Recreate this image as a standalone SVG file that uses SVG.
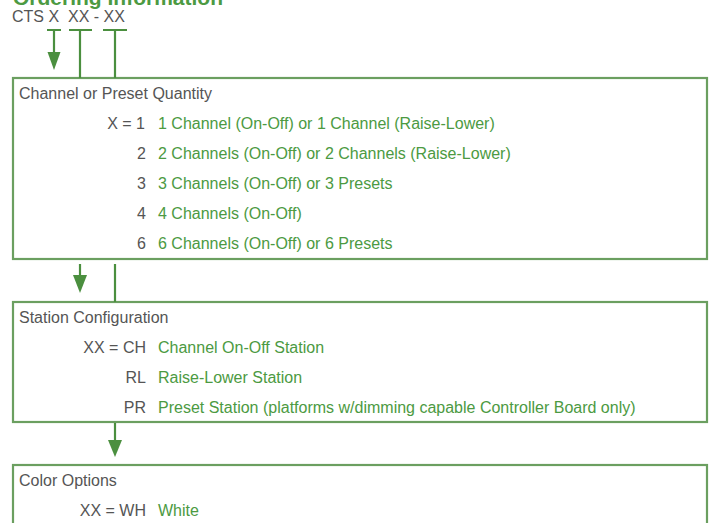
<svg xmlns="http://www.w3.org/2000/svg" width="716" height="523" viewBox="0 0 716 523">
<style>
.t{font-family:"Liberation Sans",Arial,sans-serif;font-size:16px;fill:#555}
.g{fill:#4c9a42}
.r{text-anchor:end}
.box{fill:#fff;stroke:#6b9f60;stroke-width:2.2}
.ln{stroke:#4b8f3f;stroke-width:2.2;fill:none}
.ah{fill:#4b8f3f}
</style>
<rect width="716" height="523" fill="#fff"/>
<text x="13" y="4.5" style="font-family:'Liberation Sans',Arial,sans-serif;font-size:21px;font-weight:bold;fill:#4c9a42">Ordering Information</text>
<text class="t" x="12" y="22">CTS X  <tspan x="68">XX - XX</tspan></text>

<g id="box1">
<rect class="box" x="13" y="78" width="694" height="181"/>
<text class="t" x="19" y="99">Channel or Preset Quantity</text>
<text class="t r" x="145" y="129">X = 1</text><text class="t g" x="158" y="129">1 Channel (On-Off) or 1 Channel (Raise-Lower)</text>
<text class="t r" x="146" y="159">2</text><text class="t g" x="158" y="159">2 Channels (On-Off) or 2 Channels (Raise-Lower)</text>
<text class="t r" x="146" y="189">3</text><text class="t g" x="158" y="189">3 Channels (On-Off) or 3 Presets</text>
<text class="t r" x="146" y="219">4</text><text class="t g" x="158" y="219">4 Channels (On-Off)</text>
<text class="t r" x="146" y="249">6</text><text class="t g" x="158" y="249">6 Channels (On-Off) or 6 Presets</text>
</g>

<g id="box2">
<rect class="box" x="13" y="302" width="694" height="120"/>
<text class="t" x="19" y="323">Station Configuration</text>
<text class="t r" x="146" y="353">XX = CH</text><text class="t g" x="158" y="353">Channel On-Off Station</text>
<text class="t r" x="146" y="383">RL</text><text class="t g" x="158" y="383">Raise-Lower Station</text>
<text class="t r" x="146" y="413">PR</text><text class="t g" x="158" y="413">Preset Station (platforms w/dimming capable Controller Board only)</text>
</g>

<g id="box3">
<rect class="box" x="13" y="465" width="694" height="70"/>
<text class="t" x="19" y="486">Color Options</text>
<text class="t r" x="146" y="516">XX = WH</text><text class="t g" x="158" y="516">White</text>
</g>

<g id="connectors">
<path class="ln" d="M47 30H61M54 30V53"/>
<polygon class="ah" points="47.5,52 60.5,52 54,70"/>
<path class="ln" d="M69 30H92M80 30V78"/>
<path class="ln" d="M103 30H127M115 30V78"/>
<path class="ln" d="M80 264V276"/>
<polygon class="ah" points="73,275 87,275 80,293"/>
<path class="ln" d="M115 264V302"/>
<path class="ln" d="M115 423V441"/>
<polygon class="ah" points="108,440 122,440 115,457"/>
</g>
</svg>
